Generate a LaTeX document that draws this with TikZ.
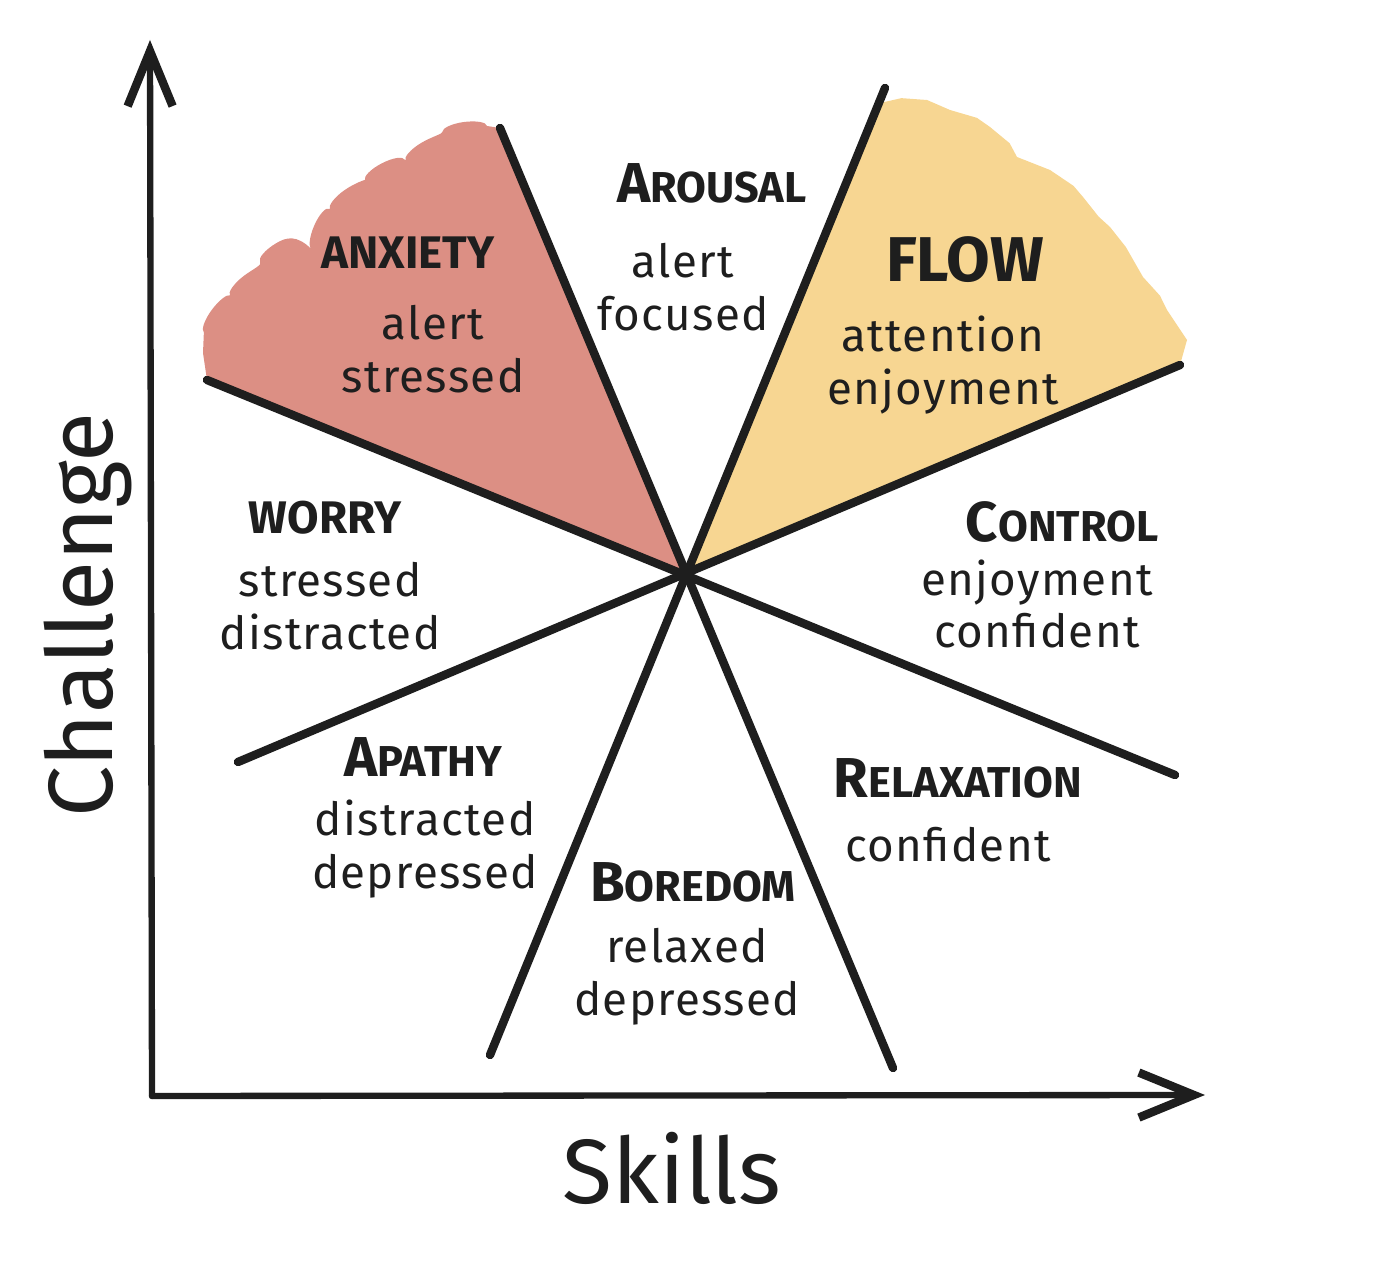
\documentclass[tikz,border=0pt]{standalone}
\usepackage{fontspec}
\setmainfont{Fira Sans}
\newfontfamily\handfont{Fira Sans}[LetterSpace=3]
\usetikzlibrary{arrows.meta,decorations.pathmorphing}
\definecolor{inkblack}{HTML}{1E1E1E}
\definecolor{anxietyred}{HTML}{DC8F84}
\definecolor{flowyellow}{HTML}{F7D692}
% first letter big, rest small, like the hand-lettered titles
\newcommand{\bigfirst}[2]{{\fontsize{16}{18}\selectfont #1}{\fontsize{12.3}{14}\selectfont #2}}

\tikzset{
  zoneline/.style={draw=inkblack, line width=2.4pt, line cap=round},
  axisline/.style={draw=inkblack, line width=1.8pt, line cap=round,
    -{Straight Barb[length=5.5mm,width=4.5mm,line width=2.4pt]}},
  zonetitle/.style={font=\bfseries, text=inkblack, inner sep=0pt},
  zonetext/.style={font=\handfont\fontsize{13}{15}\selectfont, align=center, text=inkblack, inner sep=0pt},
  axislabel/.style={font=\fontsize{26}{30}\selectfont, text=inkblack, inner sep=0pt},
}

\begin{document}
\begin{tikzpicture}[x=1cm,y=1cm]
\useasboundingbox (0,0) rectangle (13.82,12.61);

% centre and ends of the four lines
\coordinate (c) at (6.87,6.89);
\coordinate (l1top) at (5.00,11.33);
\coordinate (l1bot) at (8.93,1.93);
\coordinate (l2top) at (8.85,11.73);
\coordinate (l2bot) at (4.90,2.06);
\coordinate (l3top) at (2.07,8.81);
\coordinate (l3bot) at (11.75,4.86);
\coordinate (l4top) at (11.80,8.96);
\coordinate (l4bot) at (2.38,4.99);

% coloured wedges
\fill[anxietyred] (c) -- (l1top) -- (4.87,11.35)
  decorate[decoration={bumps,segment length=9mm,amplitude=0.7mm,mirror}]{
  -- (4.57,11.31) -- (4.23,11.11) -- (3.90,10.94) -- (3.57,10.71) -- (3.30,10.54)
  -- (3.23,10.38) -- (2.90,10.18) -- (2.67,9.94) -- (2.33,9.68) -- (2.13,9.41)
  -- (2.03,9.08)} -- (l3top) -- cycle;
\fill[flowyellow] (c) -- (8.80,11.58)
  decorate[decoration={random steps,segment length=2.5mm,amplitude=0.4mm}]{
  -- (9.27,11.61) -- (9.50,11.51) -- (9.90,11.34) -- (10.17,11.04) -- (10.50,10.91)
  -- (10.83,10.64) -- (11.10,10.34) -- (11.43,9.84) -- (11.67,9.51) -- (11.87,9.21)}
  -- (l4top) -- cycle;

% lines through the centre
\draw[zoneline] (l1top) -- (l1bot);
\draw[zoneline] (l2top) -- (l2bot);
\draw[zoneline] (l3top) -- (l3bot);
\draw[zoneline] (l4top) -- (l4bot);

% axes
\coordinate (origin) at (1.52,1.65);
\coordinate (ytip) at (1.50,12.21);
\coordinate (xtip) at (12.05,1.66);
\draw[axisline] (origin) -- (ytip);
\draw[axisline] (origin) -- (xtip);

\node[axislabel, rotate=90] (challenge) at (0.88,6.46) {Challenge};
\node[axislabel] (skills) at (6.72,0.93) {Skills};

% zones
\node[zonetitle, font=\bfseries\fontsize{13}{15}\selectfont] (anxiety) at (4.08,10.08) {ANXIETY};
\node[zonetext] (anxietytext) at (4.33,9.12) {alert\\stressed};

\node[zonetitle] (arousal) at (7.12,10.78) {\bigfirst{A}{ROUSAL}};
\node[zonetext] (arousaltext) at (6.83,9.74) {alert\\focused};

\node[zonetitle, font=\bfseries\fontsize{18}{21}\selectfont] (flow) at (9.65,10.01) {FLOW};
\node[zonetext] (flowtext) at (9.43,8.96) {attention\\enjoyment};

\node[zonetitle, font=\bfseries\fontsize{13}{15}\selectfont] (worry) at (3.25,7.43) {WORRY};
\node[zonetext] (worrytext) at (3.30,6.55) {stressed\\distracted};

\node[zonetitle] (control) at (10.62,7.39) {\bigfirst{C}{ONTROL}};
\node[zonetext] (controltext) at (10.37,6.57) {enjoyment\\confident};

\node[zonetitle] (apathy) at (4.23,5.04) {\bigfirst{A}{PATHY}};
\node[zonetext] (apathytext) at (4.25,4.12) {distracted\\depressed};

\node[zonetitle] (relaxation) at (9.58,4.83) {\bigfirst{R}{ELAXATION}};
\node[zonetext] (relaxationtext) at (9.48,4.16) {confident};

\node[zonetitle] (boredom) at (6.93,3.79) {\bigfirst{B}{OREDOM}};
\node[zonetext] (boredomtext) at (6.87,2.84) {relaxed\\depressed};
\end{tikzpicture}
\end{document}
